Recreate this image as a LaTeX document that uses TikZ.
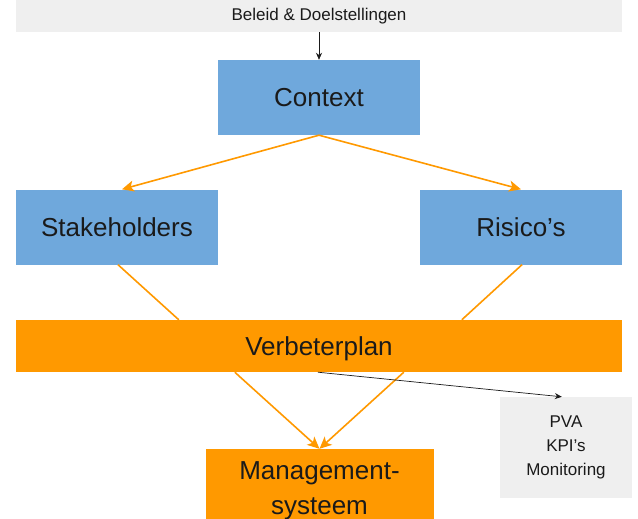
\documentclass[tikz,border=0pt]{standalone}
\usepackage{fontspec}
\setmainfont{Liberation Sans}
\usetikzlibrary{arrows.meta,calc}
\definecolor{boxblue}{HTML}{6FA8DC}
\definecolor{boxorange}{HTML}{FF9900}
\definecolor{boxgray}{HTML}{EFEFEF}
\definecolor{txt}{HTML}{1A1A1A}
\tikzset{
  bluebox/.style={rectangle,fill=boxblue,minimum width=202pt,minimum height=75pt,inner sep=0pt,text=txt,font=\fontsize{26}{30}\selectfont},
  orangebox/.style={rectangle,fill=boxorange,inner sep=0pt,text=txt,font=\fontsize{26}{35}\selectfont,align=center},
  graybox/.style={rectangle,fill=boxgray,inner sep=0pt,text=txt,font=\fontsize{17}{24}\selectfont,align=center},
  orangearrow/.style={draw=boxorange,line width=1.6pt,-{Stealth[length=12pt,width=11pt,inset=3pt]}},
  orangeline/.style={draw=boxorange,line width=1.6pt},
  blackarrow/.style={draw=txt,line width=0.7pt,-{Stealth[length=7pt,width=6pt]}}
}
\begin{document}
\begin{tikzpicture}[x=1pt,y=-1pt]
\useasboundingbox[fill=white] (0,0) rectangle (638,519);
\node[graybox,minimum width=606pt,minimum height=32pt] (bar) at (319,16) {Beleid \& Doelstellingen};
\node[bluebox] (context) at (319,97.5) {Context};
\node[bluebox] (stake) at (117,227) {Stakeholders};
\node[bluebox] (risk) at (521,227) {Risico’s};
\node[orangebox,minimum width=606pt,minimum height=52pt,text height=24pt,text depth=5.5pt] (verb) at (319,346) {Verbeterplan};
\node[orangebox,minimum width=228pt,minimum height=83pt] (mgmt) at (319.5,490.5) {Management-\\systeem};
\node[graybox,minimum width=132pt,minimum height=101pt] (pva) at (566,447.5) {PVA\\KPI’s\\Monitoring};
\coordinate (stakein) at ($(verb.north west)+(163,0)$);
\coordinate (riskin) at ($(verb.north west)+(446,0)$);
\coordinate (verbl) at ($(verb.south west)+(219,0)$);
\coordinate (verbr) at ($(verb.south west)+(388,0)$);
\coordinate (verbm) at ($(verb.south west)+(302,0)$);
\coordinate (pvain) at ($(pva.north west)+(62,0)$);
\draw[blackarrow] (bar.south) -- (context.north);
\draw[orangearrow] (context.south) -- ($(stake.north)+(5,0)$);
\draw[orangearrow] (context.south) -- (risk.north);
\draw[orangeline] ($(stake.south)+(1,0)$) -- (stakein);
\draw[orangeline] ($(risk.south)+(1,0)$) -- (riskin);
\draw[orangearrow] (verbl) -- (mgmt.north);
\draw[orangearrow] (verbr) -- (mgmt.north);
\draw[blackarrow] (verbm) -- (pvain);
\end{tikzpicture}
\end{document}
